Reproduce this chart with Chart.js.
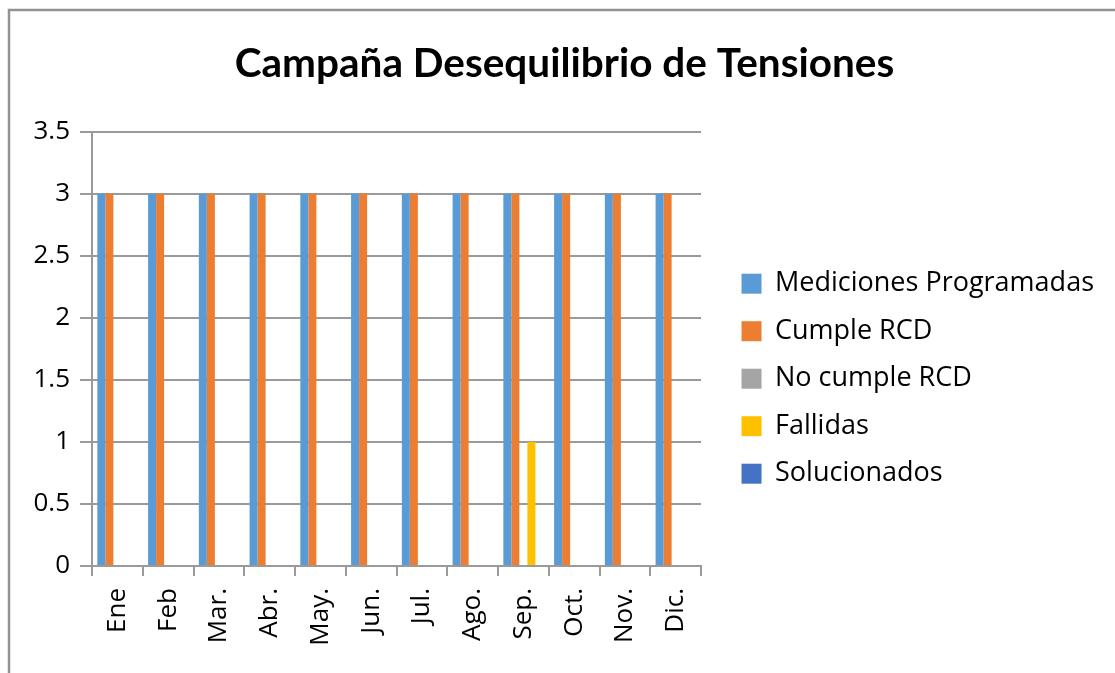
<!DOCTYPE html>
<html>
<head>
<meta charset="utf-8">
<script src="https://cdn.jsdelivr.net/npm/chart.js@4.4.1/dist/chart.umd.min.js"></script>
<style>
  html, body { margin: 0; padding: 0; background: #fff; }
  canvas { display: block; }
</style>
</head>
<body>
<canvas id="chart" width="1115" height="673"></canvas>
<script>
// chart data
const months = ['Ene', 'Feb', 'Mar.', 'Abr.', 'May.', 'Jun.', 'Jul.', 'Ago.', 'Sep.', 'Oct.', 'Nov.', 'Dic.'];
const programadas = [3, 3, 3, 3, 3, 3, 3, 3, 3, 3, 3, 3];
const cumple = [3, 3, 3, 3, 3, 3, 3, 3, 3, 3, 3, 3];
const noCumple = [0, 0, 0, 0, 0, 0, 0, 0, 0, 0, 0, 0];
const fallidas = [0, 0, 0, 0, 0, 0, 0, 0, 1, 0, 0, 0];
const solucionados = [0, 0, 0, 0, 0, 0, 0, 0, 0, 0, 0, 0];

const gridColor = '#9a9a9a';
const textFont = '"Open Sans", "Noto Sans", sans-serif';

// outer frame of the chart (top and left edges only)
const framePlugin = {
    id: 'frame',
    beforeDraw: function(chart) {
        const ctx = chart.ctx;
        ctx.save();
        ctx.fillStyle = '#fff';
        ctx.fillRect(0, 0, chart.width, chart.height);
        ctx.strokeStyle = '#939393';
        ctx.lineWidth = 2.5;
        ctx.beginPath();
        ctx.moveTo(9, chart.height);
        ctx.lineTo(9, 10);
        ctx.lineTo(chart.width, 10);
        ctx.stroke();
        ctx.restore();
    }
};

const ctx = document.getElementById('chart').getContext('2d');

new Chart(ctx, {
    type: 'bar',
    data: {
        labels: months,
        datasets: [
            { label: 'Mediciones Programadas', data: programadas, backgroundColor: '#5B9BD5' },
            { label: 'Cumple RCD', data: cumple, backgroundColor: '#ED7D31' },
            { label: 'No cumple RCD', data: noCumple, backgroundColor: '#A5A5A5' },
            { label: 'Fallidas', data: fallidas, backgroundColor: '#FFC000' },
            { label: 'Solucionados', data: solucionados, backgroundColor: '#4472C4' }
        ]
    },
    options: {
        responsive: false,
        animation: false,
        datasets: {
            bar: {
                categoryPercentage: 0.79,
                barPercentage: 1.0,
                borderWidth: 0
            }
        },
        layout: {
            padding: { left: 25, right: 11, top: 0, bottom: 28 }
        },
        plugins: {
            title: {
                display: true,
                text: 'Campaña Desequilibrio de Tensiones',
                color: '#000',
                font: { family: 'Lato, "Open Sans", sans-serif', size: 40.5, weight: 'bold' },
                padding: { top: 40, bottom: 43 }
            },
            legend: {
                position: 'right',
                align: 'center',
                maxWidth: 600,
                title: {
                    display: true,
                    text: '',
                    font: { size: 12 },
                    padding: { top: 50, bottom: 48 }
                },
                labels: {
                    boxWidth: 20,
                    boxHeight: 20,
                    padding: 20.5,
                    color: '#000',
                    font: { family: textFont, size: 27 }
                }
            },
            tooltip: { enabled: false }
        },
        scales: {
            x: {
                grid: {
                    drawOnChartArea: false,
                    tickLength: 10,
                    color: gridColor,
                    lineWidth: 2
                },
                border: { display: true, color: gridColor, width: 2 },
                ticks: {
                    color: '#000',
                    font: { family: textFont, size: 26 },
                    minRotation: 90,
                    maxRotation: 90,
                    padding: 12
                },
                afterFit: function(scale) {
                    scale.height = 79;
                }
            },
            y: {
                min: 0,
                max: 3.5,
                ticks: {
                    stepSize: 0.5,
                    color: '#000',
                    font: { family: textFont, size: 26 },
                    padding: 10,
                    callback: function(value) {
                        return value.toString();
                    }
                },
                grid: {
                    color: gridColor,
                    lineWidth: 2,
                    tickLength: 12
                },
                border: { display: true, color: gridColor, width: 2 },
                afterFit: function(scale) {
                    scale.width = 67;
                }
            },
            spacer: {
                type: 'linear',
                position: 'right',
                display: true,
                grid: { display: false },
                border: { display: false },
                ticks: { display: false },
                afterFit: function(scale) {
                    scale.width = 20;
                }
            }
        }
    },
    plugins: [framePlugin]
});
</script>
</body>
</html>
